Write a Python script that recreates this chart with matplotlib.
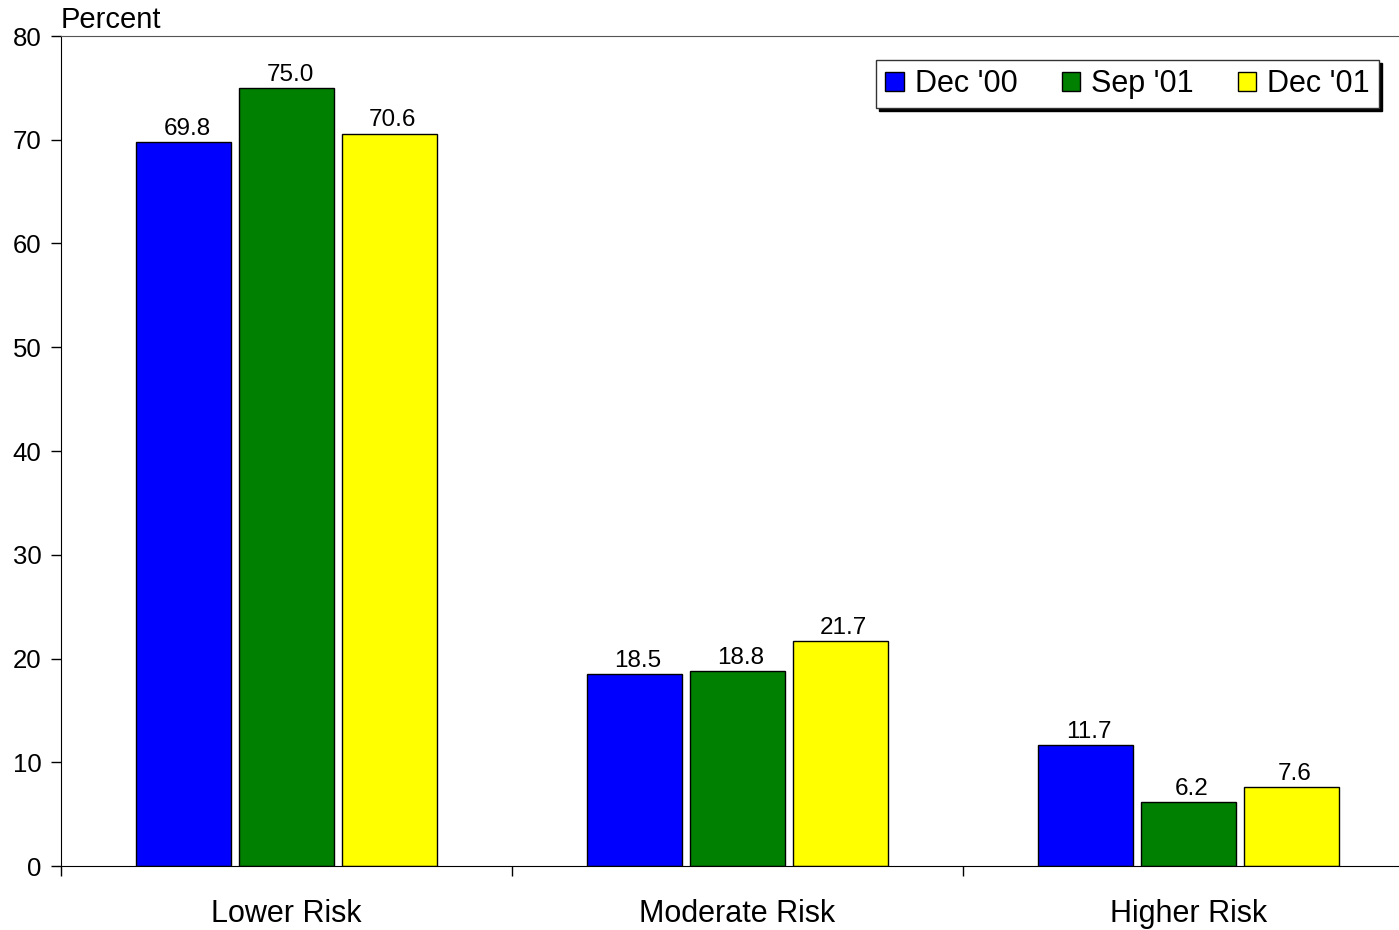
import matplotlib.pyplot as plt
import numpy as np

plt.rcParams["font.family"] = ["Liberation Sans", "DejaVu Sans"]

categories = ["Lower Risk", "Moderate Risk", "Higher Risk"]
series = ["Dec '00", "Sep '01", "Dec '01"]
dec00 = [69.8, 18.5, 11.7]
sep01 = [75.0, 18.8, 6.2]
dec01 = [70.6, 21.7, 7.6]
colors = ["#0000ff", "#008000", "#ffff00"]

fig = plt.figure(figsize=(13.99, 9.30), dpi=100)
ax = fig.add_axes([61 / 1399, 64 / 930, 1 - 61 / 1399, (866 - 36) / 930])

x = np.arange(len(categories))
width = 0.21
step = 0.228
for i, (vals, name, c) in enumerate(zip([dec00, sep01, dec01], series, colors)):
    bars = ax.bar(x + (i - 1) * step, vals, width, color=c, edgecolor="black",
                  linewidth=1, label=name, zorder=2)
    for b, v in zip(bars, vals):
        ax.annotate(f"{v:.1f}", (b.get_x() + b.get_width() / 2, v),
                    xytext=(2.5, 1.5), textcoords="offset points",
                    ha="center", va="bottom", fontsize=17.5)

ax.set_ylim(0, 80)
ax.set_xlim(-0.5, 2.5 - 15 / 451)
ax.set_yticks(range(0, 81, 10))
ax.tick_params(axis="y", labelsize=18.5, length=7, width=1, direction="out", pad=7)

ax.set_xticks([-0.5, 0.5, 1.5], labels=[])
ax.set_xticks(x, labels=categories, minor=True)
ax.tick_params(axis="x", which="major", length=7, width=1, direction="out")
ax.tick_params(axis="x", which="minor", length=0, labelsize=22, pad=24)

ax.spines["right"].set_visible(False)
ax.spines["top"].set_color("#555555")
ax.spines["left"].set_color("black")
ax.spines["bottom"].set_color("black")

ax.text(0, 1.003, "Percent", transform=ax.transAxes, fontsize=21,
        ha="left", va="bottom")

leg = ax.legend(loc="upper right",
                bbox_to_anchor=((1379 - 61) / 1338, 1 - 24 / 830),
                ncol=3, fontsize=22, frameon=True, fancybox=False,
                shadow={"color": "black", "alpha": 1},
                handlelength=0.6, handleheight=0.6, handletextpad=0.36,
                columnspacing=1.45, borderpad=0.3, borderaxespad=0)
leg.get_frame().set_edgecolor("#333333")
leg.get_frame().set_linewidth(1)

fig.savefig("out.png", dpi=100)
